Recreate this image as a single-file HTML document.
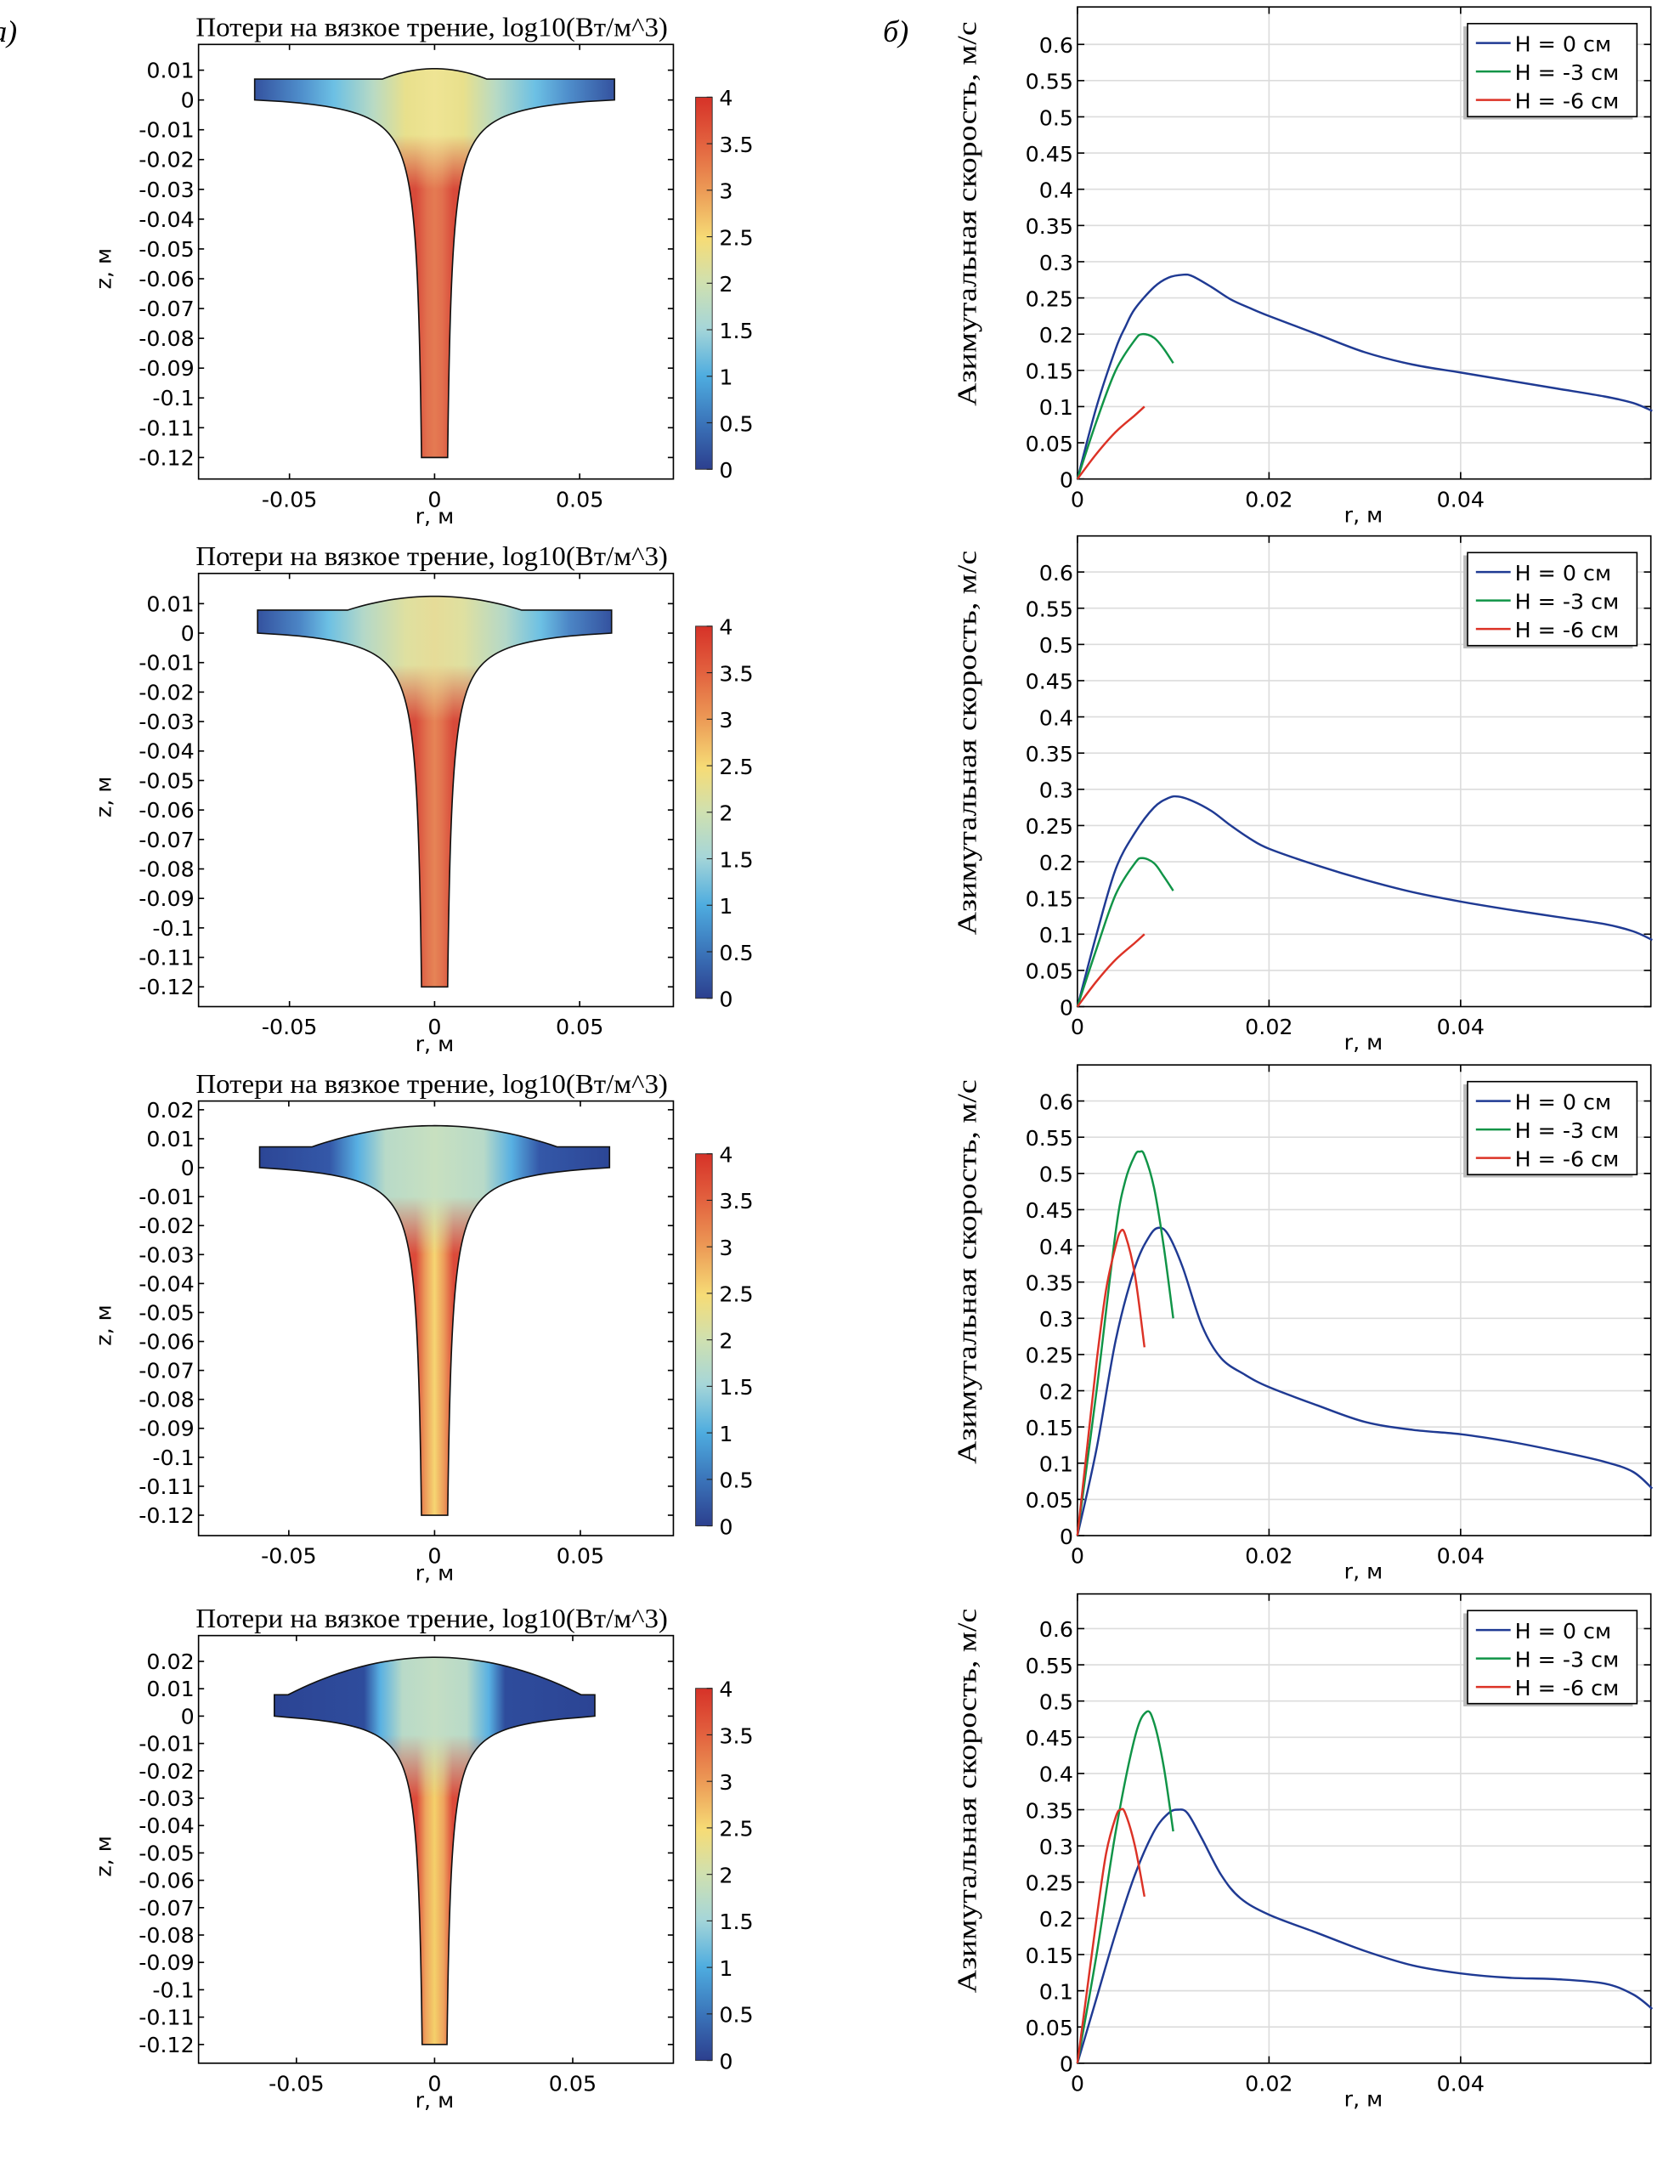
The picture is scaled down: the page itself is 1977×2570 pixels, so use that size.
<!DOCTYPE html>
<html><head><meta charset="utf-8"><style>
html,body{margin:0;padding:0;background:#fff;}
svg{display:block;}
.tk{font-family:"DejaVu Sans","Liberation Sans",sans-serif;font-size:15.5px;fill:#000;}
.sf{font-family:"Liberation Serif","DejaVu Serif",serif;fill:#000;}
</style></head><body>
<svg id="fig" xmlns="http://www.w3.org/2000/svg" width="1977" height="2570" viewBox="0 0 1210 1573" preserveAspectRatio="none">
<defs id="defs"></defs>
<text class="sf" x="-6" y="30" font-size="22" font-style="italic">а)</text>
<text class="sf" x="636" y="30" font-size="22" font-style="italic">б)</text>
</svg>
<script>
// ---- chart data (velocity profiles, r in m, v in m/s) ----
const rBlue1=[0,0.002,0.004,0.005,0.006,0.008,0.0095,0.011,0.012,0.014,0.016,0.018,0.02,0.025,0.03,0.035,0.04,0.045,0.05,0.055,0.058,0.06];
const vBlue1=[0,0.1,0.18,0.21,0.235,0.265,0.278,0.282,0.28,0.265,0.248,0.236,0.225,0.2,0.175,0.158,0.147,0.136,0.125,0.114,0.105,0.094];
const rGreen1=[0,0.002,0.004,0.006,0.0068,0.008,0.009,0.01];
const vGreen1=[0,0.08,0.15,0.192,0.2,0.195,0.18,0.16];
const rRed1=[0,0.002,0.004,0.006,0.007];
const vRed1=[0,0.035,0.065,0.088,0.1];

const rBlue2=[0,0.002,0.004,0.006,0.008,0.0095,0.0105,0.012,0.014,0.016,0.018,0.02,0.025,0.03,0.035,0.04,0.045,0.05,0.055,0.058,0.06];
const vBlue2=[0,0.1,0.19,0.24,0.275,0.288,0.29,0.284,0.27,0.25,0.232,0.218,0.195,0.175,0.158,0.145,0.134,0.124,0.114,0.104,0.092];
const rGreen2=[0,0.002,0.004,0.006,0.0068,0.008,0.009,0.01];
const vGreen2=[0,0.08,0.155,0.198,0.205,0.198,0.18,0.16];
const rRed2=[0,0.002,0.004,0.006,0.007];
const vRed2=[0,0.035,0.065,0.088,0.1];

const rBlue3=[0,0.002,0.004,0.006,0.0075,0.0085,0.0095,0.011,0.013,0.015,0.0175,0.02,0.025,0.03,0.035,0.04,0.045,0.05,0.055,0.058,0.06];
const vBlue3=[0,0.12,0.27,0.37,0.413,0.425,0.415,0.37,0.29,0.245,0.222,0.205,0.18,0.157,0.146,0.14,0.13,0.117,0.102,0.088,0.065];
const rGreen3=[0,0.002,0.004,0.005,0.006,0.0065,0.007,0.008,0.009,0.01];
const vGreen3=[0,0.2,0.42,0.49,0.525,0.53,0.525,0.48,0.4,0.3];
const rRed3=[0,0.001,0.002,0.003,0.004,0.0045,0.005,0.006,0.007];
const vRed3=[0,0.12,0.24,0.34,0.4,0.42,0.415,0.36,0.26];

const rBlue4=[0,0.002,0.004,0.006,0.008,0.0095,0.0105,0.0115,0.013,0.015,0.017,0.02,0.025,0.03,0.035,0.04,0.045,0.05,0.055,0.058,0.06];
const vBlue4=[0,0.09,0.18,0.26,0.32,0.345,0.35,0.345,0.31,0.26,0.228,0.205,0.18,0.155,0.135,0.124,0.118,0.116,0.11,0.095,0.075];
const rGreen4=[0,0.002,0.004,0.006,0.0072,0.008,0.009,0.01];
const vGreen4=[0,0.15,0.32,0.45,0.485,0.47,0.41,0.32];
const rRed4=[0,0.001,0.002,0.003,0.004,0.0045,0.005,0.006,0.007];
const vRed4=[0,0.1,0.2,0.29,0.34,0.35,0.345,0.3,0.23];

const yTickVals=[0,0.05,0.1,0.15,0.2,0.25,0.3,0.35,0.4,0.45,0.5,0.55,0.6];
const yTickLabels=["0","0.05","0.1","0.15","0.2","0.25","0.3","0.35","0.4","0.45","0.5","0.55","0.6"];
const xTickVals=[0,0.02,0.04];
const xTickLabels=["0","0.02","0.04"];
const cbTickVals=[0,0.5,1,1.5,2,2.5,3,3.5,4];
const cbTickLabels=["0","0.5","1","1.5","2","2.5","3","3.5","4"];
const rTickVals=[-0.05,0,0.05];
const rTickLabels=["-0.05","0","0.05"];
const zTicks12=[0.01,0,-0.01,-0.02,-0.03,-0.04,-0.05,-0.06,-0.07,-0.08,-0.09,-0.1,-0.11,-0.12];
const zTicks13=[0.02,0.01,0,-0.01,-0.02,-0.03,-0.04,-0.05,-0.06,-0.07,-0.08,-0.09,-0.1,-0.11,-0.12];
const seriesNames=["H = 0 см","H = -3 см","H = -6 см"];

const NS="http://www.w3.org/2000/svg";
const svg=document.getElementById('fig');
const defs=document.getElementById('defs');
function mk(tag,attrs,parent){const e=document.createElementNS(NS,tag);for(const k in attrs)e.setAttribute(k,attrs[k]);(parent||svg).appendChild(e);return e;}
function fmt(v){return Math.round(v*1000)/1000;}
function grad(id,stops,x1,x2,y1,y2){
  const g=mk('linearGradient',{id:id,gradientUnits:'userSpaceOnUse',x1:x1,x2:x2,y1:y1,y2:y2},defs);
  stops.forEach(s=>mk('stop',{offset:s[0],'stop-color':s[1]},g));
}
function smooth(P){
  let d='M'+fmt(P[0][0])+','+fmt(P[0][1]);
  for(let i=0;i<P.length-1;i++){
    const p0=P[i-1]||P[i],p1=P[i],p2=P[i+1],p3=P[i+2]||P[i+1];
    const c1=[p1[0]+(p2[0]-p0[0])/6,p1[1]+(p2[1]-p0[1])/6];
    const c2=[p2[0]-(p3[0]-p1[0])/6,p2[1]-(p3[1]-p1[1])/6];
    d+=' C'+fmt(c1[0])+','+fmt(c1[1])+' '+fmt(c2[0])+','+fmt(c2[1])+' '+fmt(p2[0])+','+fmt(p2[1]);
  }
  return d;
}

const panels=[
 {top:5,bottom:345,lt:32,lb:345,zy0:72,zs:2146,rs:2090,zt:zTicks12,W:0.062,pt:0.007,dw:0.018,dh:0.0105,
  rb:[rBlue1,vBlue1],rg:[rGreen1,vGreen1],rr:[rRed1,vRed1],
  plate:[[0,'#34529f'],[0.13,'#4f8fcc'],[0.22,'#6cc0e4'],[0.33,'#b8dac4'],[0.42,'#e8e08c'],[0.5,'#efe494'],[0.58,'#e8e08c'],[0.67,'#b8dac4'],[0.78,'#6cc0e4'],[0.87,'#4f8fcc'],[1,'#34529f']],
  stem:[[0,'#d84a3a'],[0.3,'#e2704e'],[0.5,'#e47a52'],[0.7,'#e2704e'],[1,'#d84a3a']]},
 {top:386,bottom:725,lt:413,lb:725,zy0:456,zs:2123,rs:2090,zt:zTicks12,W:0.061,pt:0.0078,dw:0.03,dh:0.0125,
  rb:[rBlue2,vBlue2],rg:[rGreen2,vGreen2],rr:[rRed2,vRed2],
  plate:[[0,'#34529f'],[0.12,'#4c86c6'],[0.2,'#6cc0e4'],[0.3,'#b4d8c8'],[0.42,'#dfe0a0'],[0.5,'#e6dc98'],[0.58,'#dfe0a0'],[0.7,'#b4d8c8'],[0.8,'#6cc0e4'],[0.88,'#4c86c6'],[1,'#34529f']],
  stem:[[0,'#d84a3a'],[0.3,'#e2724e'],[0.5,'#e68456'],[0.7,'#e2724e'],[1,'#d84a3a']]},
 {top:767,bottom:1106,lt:793,lb:1106,zy0:841,zs:2086,rs:2100,zt:zTicks13,W:0.06,pt:0.0072,dw:0.042,dh:0.0145,
  rb:[rBlue3,vBlue3],rg:[rGreen3,vGreen3],rr:[rRed3,vRed3],
  plate:[[0,'#2c4696'],[0.2,'#3458a8'],[0.28,'#58b0e2'],[0.36,'#b8dac8'],[0.5,'#c8e0c0'],[0.64,'#b8dac8'],[0.72,'#58b0e2'],[0.8,'#3458a8'],[1,'#2c4696']],
  stem:[[0,'#dc4a3a'],[0.25,'#ec9a5a'],[0.5,'#f6d672'],[0.75,'#ec9a5a'],[1,'#dc4a3a']]},
 {top:1148,bottom:1486,lt:1178,lb:1486,zy0:1236,zs:1971,rs:1990,zt:zTicks13,W:0.058,pt:0.0078,dw:0.053,dh:0.0215,
  rb:[rBlue4,vBlue4],rg:[rGreen4,vGreen4],rr:[rRed4,vRed4],
  plate:[[0,'#2c4494'],[0.28,'#2e4c9c'],[0.33,'#58b0e2'],[0.4,'#b8dac8'],[0.5,'#c4dec4'],[0.6,'#b8dac8'],[0.67,'#58b0e2'],[0.72,'#2e4c9c'],[1,'#2c4494']],
  stem:[[0,'#dc4a3a'],[0.25,'#eea45e'],[0.5,'#f4d06a'],[0.75,'#eea45e'],[1,'#dc4a3a']]}
];

panels.forEach((p,i)=>{
  const L=143,R=485,cx=313;
  const X=r=>cx+r*p.rs, Y=z=>p.zy0-z*p.zs;
  const gL=mk('g',{},svg);
  
  
  const t=mk('text',{class:'sf',x:311,y:p.lt-6,'font-size':19.5,'text-anchor':'middle',textLength:340,lengthAdjust:'spacingAndGlyphs'},gL);
  t.textContent='Потери на вязкое трение, log10(Вт/м^3)';
  
  
  const a=0.003,c=0.0001856,d=0.003256;
  const rz=z=>Math.min(p.W,a+c/(d-z));
  const zs=[];for(let z=-0.12;z<=-0.0001;z+=0.002)zs.push(z);
  for(let z=-0.02;z<=0;z+=0.0005)zs.push(z);
  zs.sort((u,v)=>u-v);
  let right=zs.map(z=>[rz(z),z]);right.push([p.W,0]);
  let left=right.slice().reverse().map(q=>[-q[0],q[1]]);
  let top=[];
  top.push([p.W,p.pt]);
  for(let k=0;k<=40;k++){const r=p.dw-2*p.dw*k/40;const h=p.pt+(p.dh-p.pt)*(1-(r/p.dw)*(r/p.dw));top.push([r,h]);}
  top.push([-p.W,p.pt]);
  const all=[[rz(-0.12),-0.12]].concat(right,top,left);
  const dstr='M'+all.map(q=>fmt(X(q[0]))+','+fmt(Y(q[1]))).join(' L')+' Z';
  const cid='clip'+i;
  const cp=mk('clipPath',{id:cid},defs);mk('path',{d:dstr},cp);
  grad('st'+i,p.stem,X(-0.0065),X(0.0065),0,0);
  grad('pl'+i,p.plate,X(-p.W),X(p.W),0,0);
  const mkid='mk'+i;
  const m=mk('mask',{id:mkid,maskUnits:'userSpaceOnUse',x:0,y:0,width:1210,height:1573},defs);
  grad('mg'+i,[[0,'#fff'],[0.55,'#fff'],[1,'#000']],0,0,Y(p.dh),Y(-0.03));
  mk('rect',{x:0,y:0,width:1210,height:1573,fill:'url(#mg'+i+')'},m);
  const gs=mk('g',{'clip-path':'url(#'+cid+')'},gL);
  mk('rect',{x:L,y:p.lt,width:R-L,height:p.lb-p.lt,fill:'url(#st'+i+')'},gs);
  mk('rect',{x:L,y:p.lt,width:R-L,height:p.lb-p.lt,fill:'url(#pl'+i+')',mask:'url(#'+mkid+')'},gs);
  const sp=mk('path',{d:dstr,fill:'none',stroke:'#111','stroke-width':1},gL);
  
  
  mk('rect',{x:L,y:p.lt,width:R-L,height:p.lb-p.lt,fill:'none',stroke:'#000','stroke-width':1},gL);
  p.zt.forEach(z=>{const y=Y(z);
    mk('line',{x1:L,x2:L+4,y1:y,y2:y,stroke:'#000'},gL);mk('line',{x1:R,x2:R-4,y1:y,y2:y,stroke:'#000'},gL);
    const tt=mk('text',{class:'tk',x:L-3,y:y+5.5,'text-anchor':'end'},gL);tt.textContent=String(z);});
  rTickVals.forEach((r,k)=>{const x=X(r);
    mk('line',{x1:x,x2:x,y1:p.lb,y2:p.lb-4,stroke:'#000'},gL);mk('line',{x1:x,x2:x,y1:p.lt,y2:p.lt+4,stroke:'#000'},gL);
    const tt=mk('text',{class:'tk',x:x,y:p.lb+20,'text-anchor':'middle'},gL);tt.textContent=rTickLabels[k];});
  const xl=mk('text',{class:'tk',x:313,y:p.lb+32,'text-anchor':'middle'},gL);xl.textContent='r, м';
  
  const zl=mk('text',{class:'tk',x:0,y:0,'text-anchor':'middle',transform:'translate(80,'+((p.lt+p.lb)/2+5)+') rotate(-90)'},gL);zl.textContent='z, м';
  
  const cbT=p.lt+38,cbB=p.lt+306;
  grad('cb'+i,[[0,'#d63228'],[0.12,'#e2603e'],[0.25,'#ec9a56'],[0.38,'#f6dc76'],[0.5,'#cfe0b0'],[0.62,'#a6d6d8'],[0.75,'#4eacdf'],[0.88,'#3a72b8'],[1,'#2c3f8e']],0,0,cbT,cbB);
  const cb=mk('rect',{x:501,y:cbT,width:12,height:cbB-cbT,fill:'url(#cb'+i+')',stroke:'#333','stroke-width':0.6},gL);
  
  cbTickVals.forEach((v,k)=>{const y=cbB-(v/4)*(cbB-cbT);
    mk('line',{x1:509,x2:513,y1:y,y2:y,stroke:'#222','stroke-width':0.7},gL);
    const tt=mk('text',{class:'tk',x:518,y:y+6},gL);tt.textContent=cbTickLabels[k];});

  const RL=776,RR=1189,RT=p.top,RB=p.bottom;
  const XR=r=>RL+r*6900, YR=v=>RB-v*521.7;
  const gR=mk('g',{},svg);
  
  
  yTickVals.forEach((v,k)=>{const y=YR(v);
    if(v>0)mk('line',{x1:RL,x2:RR,y1:y,y2:y,stroke:'#dcdcdc','stroke-width':1},gR);
    mk('line',{x1:RR,x2:RR-5,y1:y,y2:y,stroke:'#000'},gR);mk('line',{x1:RL,x2:RL+5,y1:y,y2:y,stroke:'#000'},gR);
    const tt=mk('text',{class:'tk',x:RL-3,y:y+6,'text-anchor':'end'},gR);tt.textContent=yTickLabels[k];});
  xTickVals.forEach((r,k)=>{const x=XR(r);
    if(r>0)mk('line',{x1:x,x2:x,y1:RT,y2:RB,stroke:'#dcdcdc','stroke-width':1},gR);
    mk('line',{x1:x,x2:x,y1:RT,y2:RT+5,stroke:'#000'},gR);mk('line',{x1:x,x2:x,y1:RB,y2:RB-5,stroke:'#000'},gR);
    const tt=mk('text',{class:'tk',x:x,y:RB+20,'text-anchor':'middle'},gR);tt.textContent=xTickLabels[k];});
  mk('rect',{x:RL,y:RT,width:RR-RL,height:RB-RT,fill:'none',stroke:'#000','stroke-width':1},gR);
  const rx=mk('text',{class:'tk',x:982,y:RB+31,'text-anchor':'middle'},gR);rx.textContent='r, м';
  
  const ry=mk('text',{class:'sf','font-size':19.5,x:0,y:0,'text-anchor':'middle',textLength:277,lengthAdjust:'spacingAndGlyphs',transform:'translate(703,'+(RT+149)+') rotate(-90)'},gR);ry.textContent='Азимутальная скорость, м/с';
  
  const cols=['#1f3a93','#109447','#dc3226'];
  [p.rb,p.rg,p.rr].forEach((s,k)=>{
    const P=s[0].map((r,j)=>[XR(r),YR(s[1][j])]);
    const pl=mk('path',{d:smooth(P),fill:'none',stroke:cols[k],'stroke-width':1.5,'stroke-linejoin':'round'},gR);
    
    
  });
  const lg=mk('g',{},gR);
  
  
  mk('rect',{x:1054,y:RT+14,width:122,height:67,fill:'#bbb'},lg);
  mk('rect',{x:1057,y:RT+12,width:122,height:67,fill:'#fff',stroke:'#000','stroke-width':1},lg);
  seriesNames.forEach((n,k)=>{const y=RT+26+k*20.5;
    mk('line',{x1:1063,x2:1088,y1:y,y2:y,stroke:cols[k],'stroke-width':1.5},lg);
    const tt=mk('text',{class:'tk',x:1091,y:y+6},lg);tt.textContent=n;
    });
});
</script>
</body></html>
